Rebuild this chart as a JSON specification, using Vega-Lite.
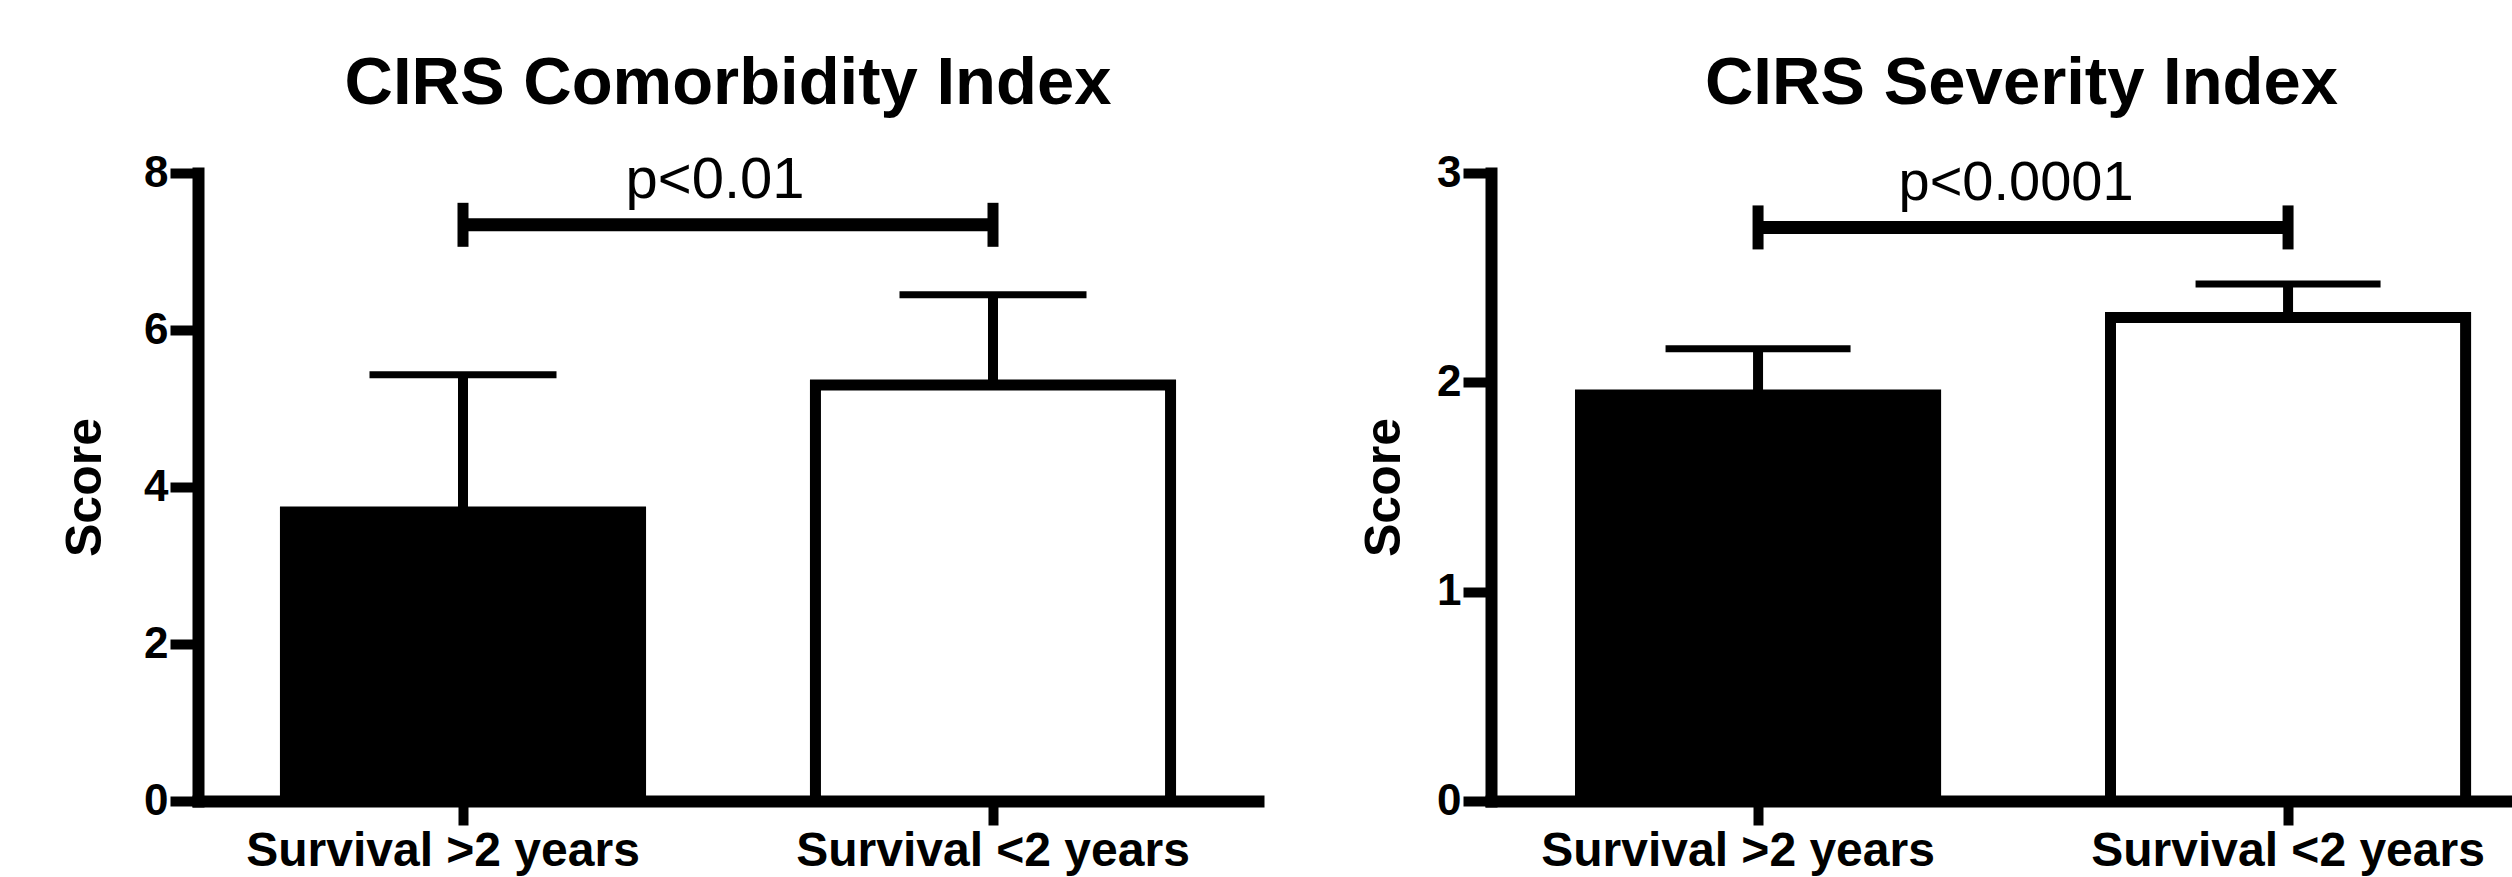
{
  "$schema": "https://vega.github.io/schema/vega-lite/v6.json",
  "autosize": {"type": "none"},
  "padding": {"left": 198, "top": 173, "right": 2314, "bottom": 704},
  "background": "white",
  "spacing": 233,
  "bounds": "flush",
  "datasets": {
    "comorbidity": [
      {"group": "Survival >2 years", "mean": 3.68, "upper": 5.43},
      {"group": "Survival <2 years", "mean": 5.30, "upper": 6.45}
    ],
    "comorbidity_sig": [
      {"from": "Survival >2 years", "to": "Survival <2 years", "y": 7.34, "label": "p<0.01"}
    ],
    "severity": [
      {"group": "Survival >2 years", "mean": 1.94, "upper": 2.16},
      {"group": "Survival <2 years", "mean": 2.31, "upper": 2.47}
    ],
    "severity_sig": [
      {"from": "Survival >2 years", "to": "Survival <2 years", "y": 2.74, "label": "p<0.0001"}
    ]
  },
  "config": {
    "view": {"stroke": null},
    "font": "Liberation Sans",
    "axis": {
      "grid": false,
      "domainColor": "black",
      "domainWidth": 12,
      "domainCap": "square",
      "tickColor": "black",
      "tickWidth": 10,
      "labelColor": "black",
      "titleColor": "black",
      "labelFont": "Liberation Sans",
      "titleFont": "Liberation Sans",
      "labelFontWeight": "bold",
      "titleFontWeight": "bold",
      "labelLimit": 0
    },
    "title": {"color": "black", "font": "Liberation Sans", "fontWeight": "bold", "fontSize": 67}
  },
  "hconcat": [
    {
      "width": 1060,
      "height": 628,
      "title": {"text": "CIRS Comorbidity Index", "frame": "group", "anchor": "middle", "offset": 33},
      "layer": [
        {
          "data": {"name": "comorbidity"},
          "mark": {"type": "bar", "stroke": "black", "strokeWidth": 11},
          "encoding": {
            "x": {
              "field": "group", "type": "nominal", "sort": null,
              "scale": {"type": "band", "domain": ["Survival >2 years", "Survival <2 years"], "paddingInner": 0.33, "paddingOuter": 0.165, "align": 0.5},
              "axis": {
                "title": null, "labelAngle": 0, "tickSize": 24, "labelFontSize": 48, "labelPadding": 2, "bandPosition": 0.5,
                "labelOffset": {"condition": {"test": "datum.value === 'Survival >2 years'", "value": -20}, "value": 0}
              }
            },
            "y": {
              "field": "mean", "type": "quantitative",
              "scale": {"domain": [0, 8], "nice": false, "zero": true},
              "axis": {"title": "Score", "values": [0, 2, 4, 6, 8], "format": "d", "tickSize": 28, "labelFontSize": 44, "labelPadding": 2, "titleFontSize": 50, "titleX": -113, "titleBaseline": "middle"}
            },
            "fill": {"field": "group", "type": "nominal", "scale": {"domain": ["Survival >2 years", "Survival <2 years"], "range": ["black", "white"]}, "legend": null}
          }
        },
        {
          "data": {"name": "comorbidity"},
          "mark": {"type": "rule", "color": "black", "strokeWidth": 10},
          "encoding": {
            "x": {"field": "group", "type": "nominal"},
            "y": {"field": "mean", "type": "quantitative"},
            "y2": {"field": "upper"}
          }
        },
        {
          "data": {"name": "comorbidity"},
          "mark": {"type": "tick", "color": "black", "opacity": 1, "size": 187, "thickness": 7},
          "encoding": {
            "x": {"field": "group", "type": "nominal"},
            "y": {"field": "upper", "type": "quantitative"}
          }
        },
        {
          "data": {"name": "comorbidity_sig"},
          "mark": {"type": "rule", "color": "black", "strokeWidth": 13},
          "encoding": {
            "x": {"field": "from", "type": "nominal"},
            "x2": {"field": "to"},
            "y": {"field": "y", "type": "quantitative"}
          }
        },
        {
          "data": {"name": "comorbidity_sig"},
          "transform": [{"fold": ["from", "to"], "as": ["end", "endGroup"]}],
          "mark": {"type": "rule", "color": "black", "strokeWidth": 11, "yOffset": -22, "y2Offset": 22},
          "encoding": {
            "x": {"field": "endGroup", "type": "nominal"},
            "y": {"field": "y", "type": "quantitative"},
            "y2": {"field": "y"}
          }
        },
        {
          "data": {"name": "comorbidity_sig"},
          "mark": {"type": "text", "color": "black", "fontSize": 58, "font": "Liberation Sans", "align": "center", "baseline": "alphabetic", "dx": 252, "dy": -27},
          "encoding": {
            "x": {"field": "from", "type": "nominal"},
            "y": {"field": "y", "type": "quantitative"},
            "text": {"field": "label"}
          }
        }
      ]
    },
    {
      "width": 1021,
      "height": 628,
      "title": {"text": "CIRS Severity Index", "frame": "group", "anchor": "middle", "offset": 33, "dx": 20},
      "layer": [
        {
          "data": {"name": "severity"},
          "mark": {"type": "bar", "stroke": "black", "strokeWidth": 11},
          "encoding": {
            "x": {
              "field": "group", "type": "nominal", "sort": null,
              "scale": {"type": "band", "domain": ["Survival >2 years", "Survival <2 years"], "paddingInner": 0.33, "paddingOuter": 0.1282, "align": 0.6586},
              "axis": {
                "title": null, "labelAngle": 0, "tickSize": 24, "labelFontSize": 48, "labelPadding": 2, "bandPosition": 0.5,
                "labelOffset": {"condition": {"test": "datum.value === 'Survival >2 years'", "value": -20}, "value": 0}
              }
            },
            "y": {
              "field": "mean", "type": "quantitative",
              "scale": {"domain": [0, 3], "nice": false, "zero": true},
              "axis": {"title": "Score", "values": [0, 1, 2, 3], "format": "d", "tickSize": 28, "labelFontSize": 44, "labelPadding": 2, "titleFontSize": 50, "titleX": -107, "titleBaseline": "middle"}
            },
            "fill": {"field": "group", "type": "nominal", "scale": {"domain": ["Survival >2 years", "Survival <2 years"], "range": ["black", "white"]}, "legend": null}
          }
        },
        {
          "data": {"name": "severity"},
          "mark": {"type": "rule", "color": "black", "strokeWidth": 10},
          "encoding": {
            "x": {"field": "group", "type": "nominal"},
            "y": {"field": "mean", "type": "quantitative"},
            "y2": {"field": "upper"}
          }
        },
        {
          "data": {"name": "severity"},
          "mark": {"type": "tick", "color": "black", "opacity": 1, "size": 185, "thickness": 7},
          "encoding": {
            "x": {"field": "group", "type": "nominal"},
            "y": {"field": "upper", "type": "quantitative"}
          }
        },
        {
          "data": {"name": "severity_sig"},
          "mark": {"type": "rule", "color": "black", "strokeWidth": 13},
          "encoding": {
            "x": {"field": "from", "type": "nominal"},
            "x2": {"field": "to"},
            "y": {"field": "y", "type": "quantitative"}
          }
        },
        {
          "data": {"name": "severity_sig"},
          "transform": [{"fold": ["from", "to"], "as": ["end", "endGroup"]}],
          "mark": {"type": "rule", "color": "black", "strokeWidth": 11, "yOffset": -22, "y2Offset": 22},
          "encoding": {
            "x": {"field": "endGroup", "type": "nominal"},
            "y": {"field": "y", "type": "quantitative"},
            "y2": {"field": "y"}
          }
        },
        {
          "data": {"name": "severity_sig"},
          "mark": {"type": "text", "color": "black", "fontSize": 56, "font": "Liberation Sans", "align": "center", "baseline": "alphabetic", "dx": 258, "dy": -27},
          "encoding": {
            "x": {"field": "from", "type": "nominal"},
            "y": {"field": "y", "type": "quantitative"},
            "text": {"field": "label"}
          }
        }
      ]
    }
  ]
}
